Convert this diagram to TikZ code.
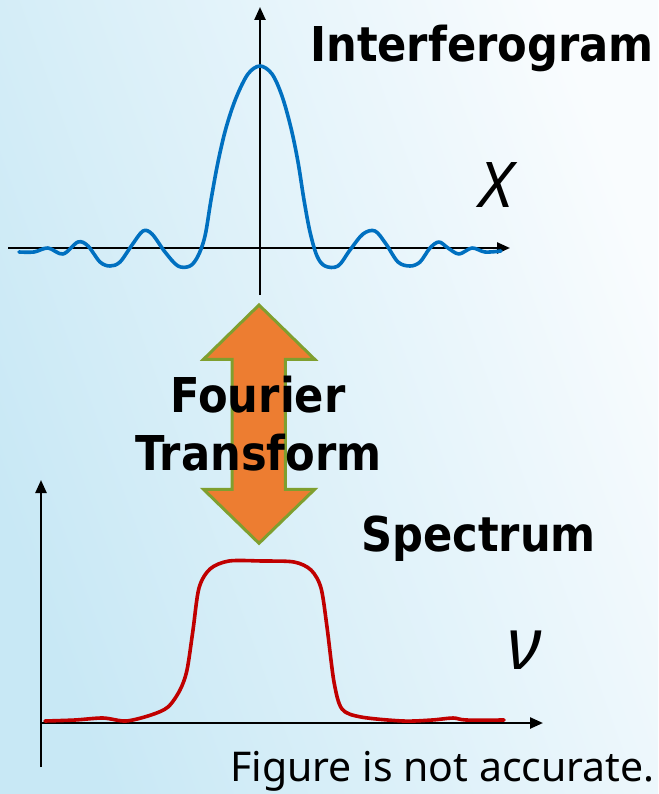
\documentclass[tikz,border=0pt]{standalone}
\usepackage{fontspec}
\setmainfont{Noto Sans}
\newfontfamily\titlefont{DejaVu Sans Condensed}
\usetikzlibrary{arrows.meta}
\definecolor{bgblue}{HTML}{C8E8F5}
\definecolor{bgwhite}{HTML}{F9FCFE}
\definecolor{curveblue}{HTML}{0070C0}
\definecolor{curvered}{HTML}{C00000}
\definecolor{arrorange}{HTML}{ED7D31}
\definecolor{arrgreen}{HTML}{7F9F2F}
\tikzset{
  axis/.style={line width=2.4pt, -{Triangle[length=13pt,width=11pt]}},
  plainaxis/.style={line width=2.4pt},
  curve/.style={line width=3.6pt, line join=round, line cap=round},
  title/.style={font=\titlefont\bfseries\fontsize{48}{50}\selectfont, inner sep=0pt},
  varlabel/.style={inner sep=0pt},
  note/.style={font=\fontsize{41}{44}\selectfont, inner sep=0pt},
}
\begin{document}
\begin{tikzpicture}[x=1pt,y=-1pt]
\useasboundingbox (0,0) rectangle (658,794);
\shade[shading=axis, top color=bgwhite, bottom color=bgblue, shading angle=-70] (0,0) rectangle (658,794);
% top graph axes
\draw[axis] (8,248) -- (510,248);
\draw[axis] (260,295) -- (260,7);
% interferogram curve
\draw[curve, curveblue] plot[smooth, tension=0.55] coordinates {
(19,252) (34,252) (48,248) (63,254) (78,242) (88,246) (100,262) (110,266) (120,262)
(132,245) (143,231) (152,234) (165,252) (178,266) (190,266) (198,256) (205,236)
(211,200) (218,162) (226,128) (236,98) (248,74) (260,66) (272,74) (282,96)
(291,128) (298,162) (304,200) (310,232) (317,256) (325,266) (338,266) (350,250)
(363,234) (375,231) (386,244) (398,262) (410,266) (420,262) (430,248) (439,242)
(448,248) (459,254) (472,248) (485,252) (501,251)};
% double arrow
\draw[line width=3pt, arrgreen, fill=arrorange, line join=miter]
  (259,305) -- (314.7,359.3) -- (285.4,359.3) -- (285.4,489.3) -- (314.7,489.3)
  -- (259,543.3) -- (203.5,489.3) -- (232,489.3) -- (232,359.3) -- (203.5,359.3) -- cycle;
% bottom graph axes
\draw[plainaxis] (41,767) -- (41,723);
\draw[axis] (41,723) -- (41,480);
\draw[axis] (41,723) -- (543,723);
% spectrum curve
\draw[curve, curvered] plot[smooth, tension=0.5] coordinates {
(45,721) (75,720) (103,718) (126,721) (151,715) (168,707) (180,690) (187,670)
(193,630) (199,588) (210,569) (229,561) (262,561) (294,562) (311,570) (321,588)
(327,627) (334,682) (342,709) (361,717) (403,721) (432,720) (453,718) (466,720) (504,720)};
% labels
\node[title, anchor=base west] (interf) at (310,62) {Interferogram};
\node[title, anchor=base] (fourier) at (258,412) {Fourier};
\node[title, anchor=base] (transform) at (258.5,470) {Transform};
\node[title, anchor=base west] (spectrum) at (361,551) {Spectrum};
\node[varlabel, font=\itshape\fontsize{63}{64}\selectfont] (xlab) at (496,185.5) {X};
\node[varlabel, font=\itshape\fontsize{72}{72}\selectfont] (nulab) at (525,650) {ν};
\node[note, anchor=base east] (fignote) at (655,781) {Figure is not accurate.};
\end{tikzpicture}
\end{document}
